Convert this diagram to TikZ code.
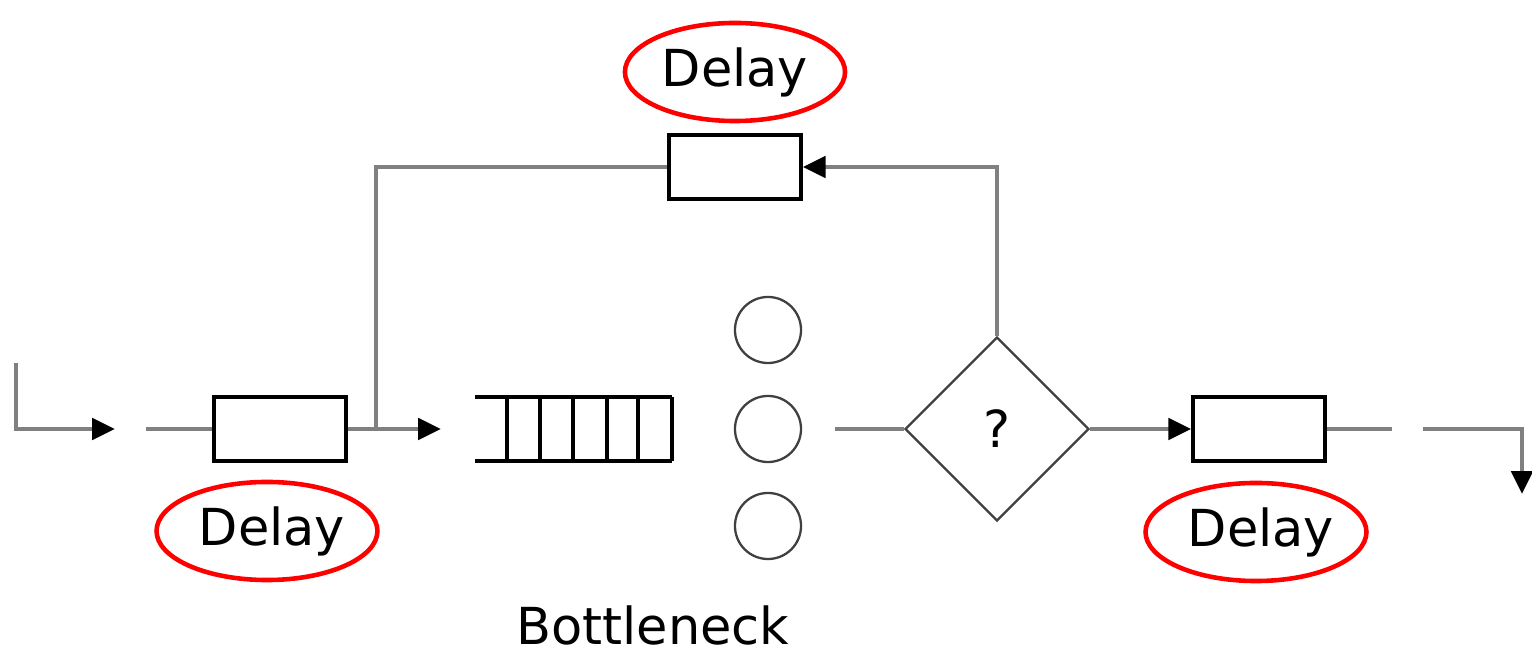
\documentclass[tikz,border=0pt]{standalone}
\usepackage{fontspec}
\setmainfont{DejaVu Sans}
\usetikzlibrary{arrows.meta,shapes.geometric}
\tikzset{
  >={Triangle[length=6.5pt,width=6pt,color=black]},
  conn/.style={draw=black!50,line width=1.3pt},
  dbox/.style={rectangle,draw,line width=1pt,minimum width=1.32cm,minimum height=0.64cm,inner sep=0pt},
  srv/.style={circle,draw=black!75,line width=0.65pt,minimum size=0.66cm,inner sep=0pt},
  dec/.style={diamond,draw=black!75,line width=0.65pt,aspect=1,minimum size=1.84cm,inner sep=0pt,font=\fontsize{14.5}{17}\selectfont},
  lbl/.style={ellipse,draw=red,line width=1.3pt,minimum width=2.2cm,minimum height=0.98cm,inner sep=0pt,font=\fontsize{14.5}{17}\selectfont},
}
\begin{document}
\begin{tikzpicture}[x=0.01cm,y=-0.01cm]
\useasboundingbox (0,0) rectangle (1532,652);
\node[dbox] (D1) at (280,429){}; \node[dbox] (Dfb) at (735,167){}; \node[dbox] (D3) at (1259,429){};
\node[srv] (S1) at (768,330){}; \node[srv] (S2) at (768,429){}; \node[srv] (S3) at (768,526){};
\node[dec] (Q) at (997,429){?};
\node[lbl] (L1) at (267,531){\hspace{0.1cm}Delay}; \node[lbl] (Lfb) at (735,72){Delay}; \node[lbl] (L3) at (1256,532){\hspace{0.1cm}Delay};
\node[font=\fontsize{14.5}{17}\selectfont,anchor=base] (B) at (653,645){Bottleneck};
% queue
\draw[line width=1pt] (475,397) -- (672,397) (475,461) -- (672,461);
\foreach \x in {507,540,573,607,638,672} \draw[line width=1pt] (\x,397) -- (\x,461);
% connectors
\coordinate (in0) at (16,363); \coordinate (in1) at (115,429); \coordinate (in2) at (146,429);
\coordinate (br) at (376,429); \coordinate (qin) at (441,429); \coordinate (sout) at (835,429);
\coordinate (out1) at (1392,429); \coordinate (out2) at (1423,429); \coordinate (out3) at (1522,494);
\draw[conn,->] (in0) |- (in1); \draw[conn] (in2) -- (D1.west);
\draw[conn,->] (D1.east) -- (qin); \draw[conn] (br) |- (Dfb.west);
\draw[conn,->] (Q.north) |- (Dfb.east);
\draw[conn] (sout) -- (Q.west); \draw[conn,->] (Q.east) -- (D3.west);
\draw[conn] (D3.east) -- (out1); \draw[conn,->] (out2) -| (out3);
\end{tikzpicture}
\end{document}
